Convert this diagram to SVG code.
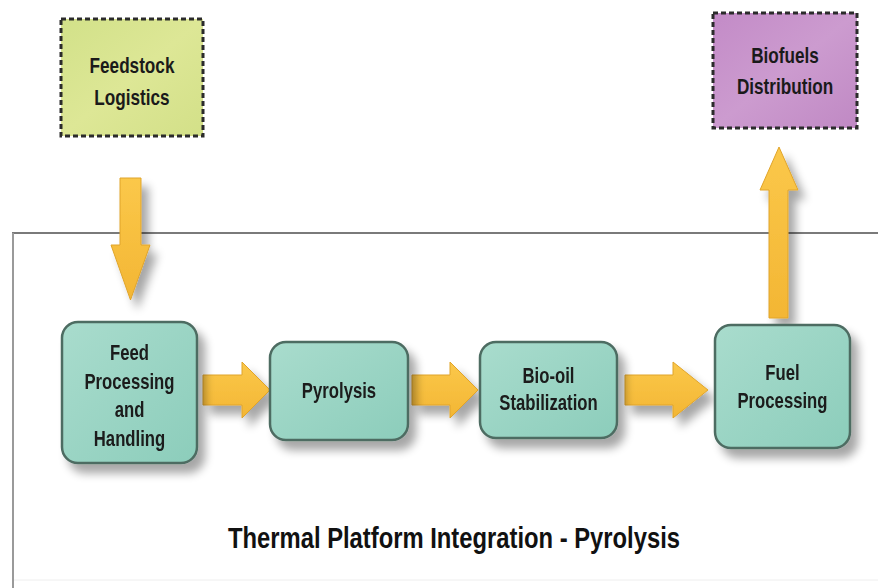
<svg xmlns="http://www.w3.org/2000/svg" width="878" height="588" viewBox="0 0 878 588">
  <defs>
    <filter id="shadow" x="-20%" y="-20%" width="150%" height="150%">
      <feGaussianBlur in="SourceAlpha" stdDeviation="5"/>
      <feOffset dx="7" dy="9" result="b"/>
      <feComponentTransfer><feFuncA type="linear" slope="0.35"/></feComponentTransfer>
      <feMerge><feMergeNode/><feMergeNode in="SourceGraphic"/></feMerge>
    </filter>
    <linearGradient id="teal" x1="0" y1="0" x2="1" y2="1">
      <stop offset="0" stop-color="#a9dccd"/>
      <stop offset="1" stop-color="#8ccdbb"/>
    </linearGradient>
    <linearGradient id="lime" x1="0" y1="0" x2="1" y2="1">
      <stop offset="0" stop-color="#d2e189"/>
      <stop offset="0.5" stop-color="#dde796"/>
      <stop offset="1" stop-color="#d3e088"/>
    </linearGradient>
    <linearGradient id="violet" x1="0" y1="0" x2="1" y2="1">
      <stop offset="0" stop-color="#c38bc7"/>
      <stop offset="0.5" stop-color="#cc9bcf"/>
      <stop offset="1" stop-color="#c089c4"/>
    </linearGradient>
    <linearGradient id="gold" x1="0" y1="0" x2="0" y2="1">
      <stop offset="0" stop-color="#fbc84a"/>
      <stop offset="1" stop-color="#f3b634"/>
    </linearGradient>
  </defs>
  <style>
    .proc { fill: url(#teal); stroke: #4e6c62; stroke-width: 2.5; }
    .ext { stroke: #2b2b2b; stroke-width: 3; stroke-dasharray: 5 3; }
    .lbl { font-family: "Liberation Sans", Arial, sans-serif; font-weight: bold; font-size: 22px; fill: #1a1a1a; text-anchor: middle; }
    .arrow { fill: url(#gold); stroke: #e0a42a; stroke-width: 1; }
    .title { font-family: "Liberation Sans", Arial, sans-serif; font-weight: bold; font-size: 29px; fill: #111; }
  </style>
  <rect width="878" height="588" fill="#ffffff"/>
  <!-- frame -->
  <line x1="12" y1="233" x2="878" y2="233" stroke="#7a7a7a" stroke-width="2"/>
  <line x1="13" y1="233" x2="13" y2="588" stroke="#9a9a9a" stroke-width="2"/>
  <line x1="14" y1="580" x2="878" y2="580" stroke="#eeeeee" stroke-width="1"/>

  <g id="connectors" filter="url(#shadow)">
    <polygon class="arrow" points="120,178 141,178 141,245 150,245 130.5,300 111,245 120,245"/>
    <polygon class="arrow" points="769,318 788,318 788,190 798,190 779,147 760,190 769,190"/>
    <polygon class="arrow" points="203,375 242,375 242,362 270,390 242,418 242,405 203,405"/>
    <polygon class="arrow" points="412,375 450,375 450,362 478,390 450,418 450,405 412,405"/>
    <polygon class="arrow" points="625,375 673,375 673,362 708,390 673,418 673,405 625,405"/>
  </g>

  <g id="feedstock-logistics">
    <rect x="61" y="19" width="142" height="117" fill="url(#lime)" class="ext"/>
    <text class="lbl" transform="translate(132 0) scale(0.78 1)" x="0" y="73">Feedstock</text>
    <text class="lbl" transform="translate(132 0) scale(0.78 1)" x="0" y="105">Logistics</text>
  </g>

  <g id="biofuels-distribution">
    <rect x="713" y="13" width="144" height="115" fill="url(#violet)" class="ext"/>
    <text class="lbl" transform="translate(785 0) scale(0.78 1)" x="0" y="63">Biofuels</text>
    <text class="lbl" transform="translate(785 0) scale(0.78 1)" x="0" y="94">Distribution</text>
  </g>

  <g id="feed-processing" filter="url(#shadow)">
    <rect class="proc" x="62" y="322" width="135" height="141" rx="16"/>
    <text class="lbl" transform="translate(129.5 0) scale(0.76 1)" x="0" y="360">Feed</text>
    <text class="lbl" transform="translate(129.5 0) scale(0.76 1)" x="0" y="389">Processing</text>
    <text class="lbl" transform="translate(129.5 0) scale(0.76 1)" x="0" y="417">and</text>
    <text class="lbl" transform="translate(129.5 0) scale(0.76 1)" x="0" y="446">Handling</text>
  </g>

  <g id="pyrolysis" filter="url(#shadow)">
    <rect class="proc" x="270" y="342" width="138" height="98" rx="16"/>
    <text class="lbl" transform="translate(339 0) scale(0.76 1)" x="0" y="398">Pyrolysis</text>
  </g>

  <g id="bio-oil-stabilization" filter="url(#shadow)">
    <rect class="proc" x="480" y="342" width="137" height="96" rx="16"/>
    <text class="lbl" transform="translate(548.5 0) scale(0.76 1)" x="0" y="383">Bio-oil</text>
    <text class="lbl" transform="translate(548.5 0) scale(0.76 1)" x="0" y="410">Stabilization</text>
  </g>

  <g id="fuel-processing" filter="url(#shadow)">
    <rect class="proc" x="715" y="325" width="135" height="123" rx="16"/>
    <text class="lbl" transform="translate(782.5 0) scale(0.76 1)" x="0" y="380">Fuel</text>
    <text class="lbl" transform="translate(782.5 0) scale(0.76 1)" x="0" y="408">Processing</text>
  </g>

  <g id="title">
    <text class="title" x="228" y="548" textLength="452" lengthAdjust="spacingAndGlyphs">Thermal Platform Integration - Pyrolysis</text>
  </g>
</svg>
